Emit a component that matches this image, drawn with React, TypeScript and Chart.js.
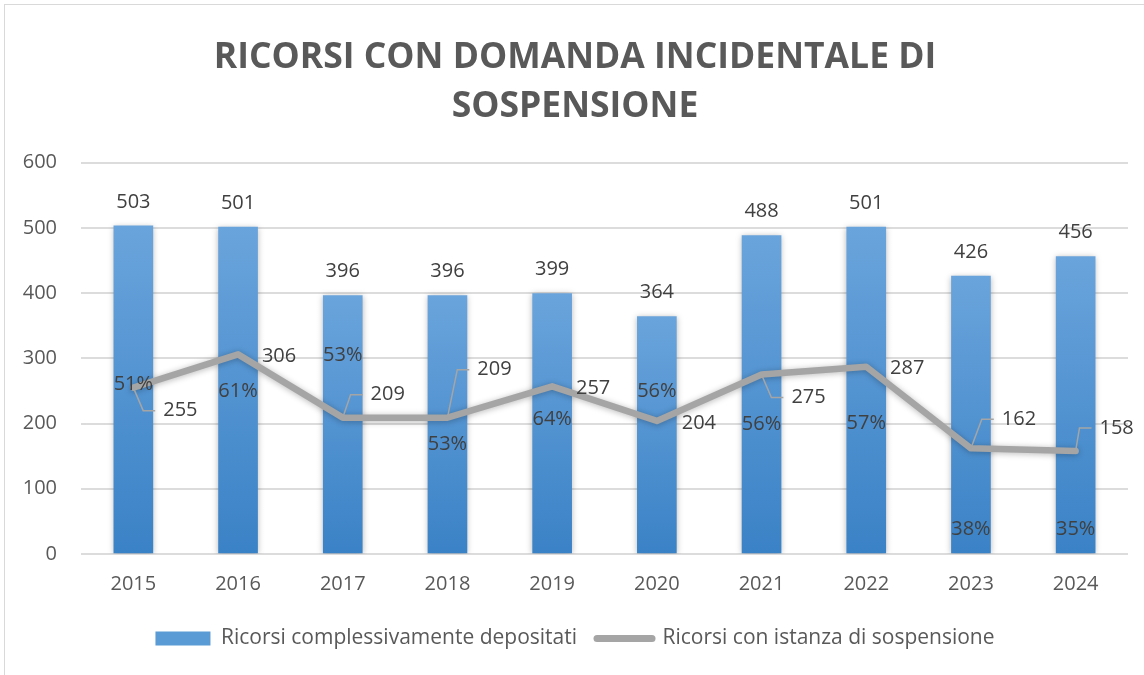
import React, { useEffect, useRef } from 'react';
import { Chart, registerables } from 'chart.js';

Chart.register(...registerables);

// ---------- data ----------
const years = ['2015', '2016', '2017', '2018', '2019', '2020', '2021', '2022', '2023', '2024'];
const totalFiled = [503, 501, 396, 396, 399, 364, 488, 501, 426, 456];
const withSuspension = [255, 306, 209, 209, 257, 204, 275, 287, 162, 158];
const seriesNames = ['Ricorsi complessivamente depositati', 'Ricorsi con istanza di sospensione'];
const titleLines = ['RICORSI CON DOMANDA INCIDENTALE DI', 'SOSPENSIONE'];
const yMin = 0;
const yMax = 600;
const yStep = 100;

// ---------- label placement (px offsets from each line point) ----------
// [dx, dy, leader?]
const valueLabelOffsets: [number, number, number][] = [
  [47, 23, 1], [41, 2, 0], [45, -23, 1], [47, -48, 1], [41, 2, 0],
  [42, 2, 0], [47, 23, 1], [41, 2, 0], [48, -29, 1], [41, -23, 1],
];
const pctLabelOffsets = [-3, 37, -62, 27, 33, -30, 50, 57, 81, 78];

const FONT = "'Open Sans', sans-serif";
const TEXT_DARK = '#404040';
const TEXT_GRAY = '#595959';
const LINE_GRAY = '#a5a5a5';

const labelsPlugin = {
  id: 'customLabels',
  afterDatasetsDraw(chart: any) {
    const ctx = chart.ctx;
    const barMeta = chart.getDatasetMeta(0);
    const lineMeta = chart.getDatasetMeta(1);
    ctx.save();
    ctx.font = `20px ${FONT}`;
    ctx.fillStyle = TEXT_DARK;
    ctx.textAlign = 'center';
    ctx.textBaseline = 'middle';
    barMeta.data.forEach((bar: any, i: number) => {
      ctx.fillText(String(totalFiled[i]), bar.x, bar.y - 24);
    });
    lineMeta.data.forEach((pt: any, i: number) => {
      const [dx, dy, leader] = valueLabelOffsets[i];
      const text = String(withSuspension[i]);
      const lx = pt.x + dx;
      const ly = pt.y + dy;
      const w = ctx.measureText(text).width;
      if (leader) {
        const left = lx - w / 2;
        ctx.save();
        ctx.strokeStyle = LINE_GRAY;
        ctx.lineWidth = 1.5;
        ctx.beginPath();
        ctx.moveTo(pt.x, pt.y);
        ctx.lineTo(left - 20, ly);
        ctx.lineTo(left - 8, ly);
        ctx.stroke();
        ctx.restore();
      }
      ctx.fillText(text, lx, ly);
      const pct = Math.round((withSuspension[i] / totalFiled[i]) * 100) + '%';
      ctx.fillText(pct, pt.x, pt.y + pctLabelOffsets[i]);
    });
    ctx.restore();
  },
};

const frameShadowPlugin = {
  id: 'frameShadow',
  beforeDraw(chart: any) {
    const ctx = chart.ctx;
    ctx.save();
    ctx.fillStyle = '#ffffff';
    ctx.fillRect(0, 0, chart.width, chart.height);
    ctx.strokeStyle = '#d9d9d9';
    ctx.lineWidth = 1;
    ctx.strokeRect(4.5, 4.5, chart.width + 20, chart.height + 20);
    ctx.restore();
  },
  beforeDatasetDraw(chart: any) {
    const ctx = chart.ctx;
    ctx.save();
    ctx.shadowColor = 'rgba(0,0,0,0.28)';
    ctx.shadowBlur = 6;
    ctx.shadowOffsetX = 0;
    ctx.shadowOffsetY = 1;
  },
  afterDatasetDraw(chart: any) {
    chart.ctx.restore();
  },
};

export default function App() {
  const canvasRef = useRef<HTMLCanvasElement | null>(null);

  useEffect(() => {
    const canvas = canvasRef.current;
    if (!canvas) return;
    const chart = new Chart(canvas, {
      type: 'bar',
      data: {
        labels: years,
        datasets: [
          {
            type: 'bar',
            label: seriesNames[0],
            data: totalFiled,
            order: 1,
            backgroundColor: (c: any) => {
              const ch = c.chart;
              if (!ch.chartArea || c.type !== 'data') return '#5b9bd5';
              const ys = ch.scales.y;
              const top = ys.getPixelForValue(c.raw);
              const bottom = ys.getPixelForValue(0);
              const g = ch.ctx.createLinearGradient(0, top, 0, bottom);
              g.addColorStop(0, '#6aa4dc');
              g.addColorStop(1, '#3a82c6');
              return g;
            },
            borderWidth: 0,
            barThickness: 39,
          } as any,
          {
            type: 'line',
            label: seriesNames[1],
            data: withSuspension,
            order: 0,
            borderColor: LINE_GRAY,
            backgroundColor: LINE_GRAY,
            borderWidth: 6.5,
            borderCapStyle: 'round',
            borderJoinStyle: 'round',
            pointRadius: 0,
            pointHoverRadius: 0,
            tension: 0,
          } as any,
        ],
      },
      options: {
        responsive: false,
        animation: false,
        events: [],
        layout: { padding: { top: 0, left: 22, right: 16, bottom: 16 } },
        scales: {
          x: {
            grid: { display: false, drawTicks: false },
            border: { display: false },
            ticks: { color: TEXT_GRAY, font: { family: FONT, size: 20 }, padding: 18 },
            afterFit: (s: any) => { s.height = 54; },
          },
          y: {
            min: yMin,
            max: yMax,
            ticks: { stepSize: yStep, color: TEXT_GRAY, font: { family: FONT, size: 20 }, padding: 24 },
            grid: { color: '#dcdcdc', lineWidth: 2, drawTicks: false },
            border: { display: false },
            afterFit: (s: any) => { s.width = 59; },
          },
        },
        plugins: {
          title: {
            display: true,
            text: titleLines,
            color: TEXT_GRAY,
            font: { family: FONT, size: 35.5, weight: 'bold', lineHeight: 1.36 },
            padding: { top: 34, bottom: 32 },
          },
          legend: {
            display: true,
            position: 'bottom',
            labels: {
              usePointStyle: true,
              pointStyleWidth: 55,
              boxWidth: 55,
              boxHeight: 14,
              padding: 20,
              color: TEXT_GRAY,
              font: { family: FONT, size: 21 },
              generateLabels: () => [
                {
                  text: seriesNames[0], fillStyle: '#5b9bd5', strokeStyle: '#5b9bd5', lineWidth: 0,
                  pointStyle: 'rect', datasetIndex: 0, hidden: false, fontColor: TEXT_GRAY,
                },
                {
                  text: seriesNames[1], fillStyle: LINE_GRAY, strokeStyle: LINE_GRAY, lineWidth: 7,
                  lineCap: 'round', pointStyle: 'line', datasetIndex: 1, hidden: false, fontColor: TEXT_GRAY,
                },
              ],
            },
          },
          tooltip: { enabled: false },
        },
      } as any,
      plugins: [frameShadowPlugin, labelsPlugin],
    });
    return () => chart.destroy();
  }, []);

  return (
    <div style={{ position: 'fixed', left: 0, top: 0, width: 1144, height: 675, background: '#fff' }}>
      <canvas ref={canvasRef} width={1144} height={675} style={{ width: 1144, height: 675, display: 'block' }} />
    </div>
  );
}
